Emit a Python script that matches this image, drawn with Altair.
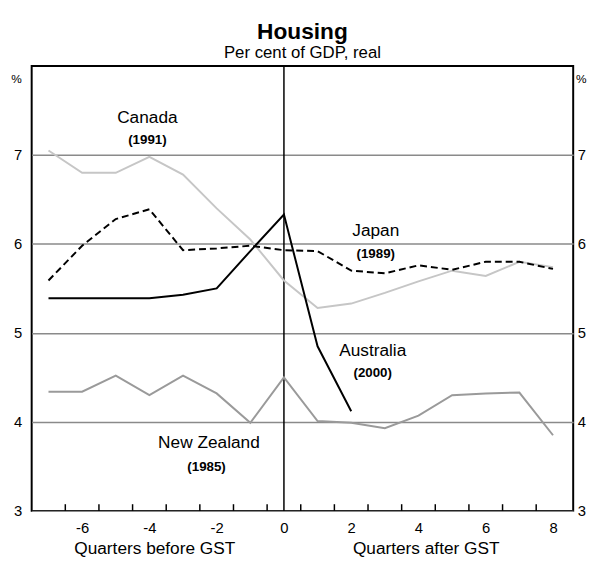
import altair as alt
import pandas as pd

FONT = "Liberation Sans, Arial, sans-serif"

quarters = list(range(-7, 9))
canada = [7.05, 6.80, 6.80, 6.98, 6.78, 6.40, 6.05, 5.59, 5.28, 5.33, 5.45, 5.58, 5.70, 5.64, 5.80, 5.74]
japan = [5.59, 5.98, 6.28, 6.39, 5.93, 5.95, 5.98, 5.93, 5.92, 5.70, 5.67, 5.76, 5.71, 5.80, 5.80, 5.72]
australia_q = list(range(-7, 3))
australia = [5.39, 5.39, 5.39, 5.39, 5.43, 5.50, 5.92, 6.33, 4.85, 4.12]
new_zealand = [4.34, 4.34, 4.52, 4.30, 4.52, 4.32, 3.99, 4.50, 4.01, 3.99, 3.93, 4.07, 4.30, 4.32, 4.33, 3.85]

x_tick_pos = [q + 0.5 for q in range(-7, 8)]
x_label_vals = [-6, -4, -2, 0, 2, 4, 6, 8]
y_label_vals = [3, 4, 5, 6, 7]

name_labels = ["Canada", "Japan", "Australia", "New Zealand"]
name_x = [-4.06, 2.73, 2.64, -2.23]
name_y = [7.42, 6.15, 4.80, 3.765]
year_labels = ["(1991)", "(1989)", "(2000)", "(1985)"]
year_x = [-4.06, 2.73, 2.64, -2.30]
year_y = [7.17, 5.89, 4.55, 3.49]

bottom_titles = ["Quarters before  GST", "Quarters after GST"]
bottom_x = [-3.84, 4.23]

XDOM = [-7.5, 8.6]
YDOM = [3, 8]

xs = alt.Scale(domain=XDOM, nice=False, zero=False)
ys = alt.Scale(domain=YDOM, nice=False, zero=False)

XAXIS = alt.Axis(
    values=x_label_vals, tickSize=0, labelPadding=10, domain=False, grid=False,
    labelExpr="'' + datum.value",
    labelFontSize=15, labelFont=FONT, labelColor="black", title=None)


def X(field):
    return alt.X(field, scale=xs, axis=XAXIS)


def line_layer(qs, vals, color, dash=None, width=2.0):
    df = pd.DataFrame({"q": qs, "v": vals})
    kw = dict(color=color, strokeWidth=width)
    if dash:
        kw["strokeDash"] = dash
    return alt.Chart(df).mark_line(**kw).encode(
        x=X("q:Q"),
        y=alt.Y("v:Q", scale=ys, axis=None),
    )


grid_df = pd.DataFrame({"v": y_label_vals})
left_axis = alt.Chart(grid_df).mark_point(opacity=0).encode(
    x=X("v:Q"),
    y=alt.Y("v:Q", scale=ys, axis=alt.Axis(
        values=y_label_vals, orient="left", tickSize=0, labelPadding=10, domain=False,
        grid=True, gridColor="#8a8a8a", gridWidth=1.5, labelFontSize=15, labelFont=FONT,
        labelColor="black", title=None)),
)
right_axis = alt.Chart(grid_df).mark_point(opacity=0).encode(
    x=X("v:Q"),
    y=alt.Y("v:Q", scale=ys, axis=alt.Axis(
        values=y_label_vals, orient="right", tickSize=0, labelPadding=4, domain=False,
        grid=False, labelFontSize=15, labelFont=FONT, labelColor="black", title=None)),
)

pct_df = pd.DataFrame({"q": [-7.95, 8.84], "v": [7.85, 7.85], "t": ["%", "%"]})
pct = alt.Chart(pct_df).mark_text(fontSize=12, font=FONT, color="black").encode(
    x=X("q:Q"), y=alt.Y("v:Q", scale=ys, axis=None), text="t:N")

zero_df = pd.DataFrame({"q": [0], "a": [YDOM[0]], "b": [YDOM[1]]})
zero_line = alt.Chart(zero_df).mark_rule(color="black", strokeWidth=1.5).encode(
    x=X("q:Q"),
    y=alt.Y("a:Q", scale=ys, axis=None), y2="b:Q")

tick_df = pd.DataFrame({"q": x_tick_pos, "a": [3.0] * len(x_tick_pos), "b": [3.075] * len(x_tick_pos)})
ticks = alt.Chart(tick_df).mark_rule(color="black", strokeWidth=1.5).encode(
    x=X("q:Q"),
    y=alt.Y("a:Q", scale=ys, axis=None), y2="b:Q")

names_df = pd.DataFrame({"q": name_x, "v": name_y, "t": name_labels})
names = alt.Chart(names_df).mark_text(fontSize=17.5, font=FONT, color="black").encode(
    x=X("q:Q"), y=alt.Y("v:Q", scale=ys, axis=None), text="t:N")
years_df = pd.DataFrame({"q": year_x, "v": year_y, "t": year_labels})
years = alt.Chart(years_df).mark_text(fontSize=13.5, font=FONT, color="black", fontWeight="bold").encode(
    x=X("q:Q"), y=alt.Y("v:Q", scale=ys, axis=None), text="t:N")

bt_df = pd.DataFrame({"q": bottom_x, "v": [2.568, 2.568], "t": bottom_titles})
btitles = alt.Chart(bt_df).mark_text(fontSize=17.5, font=FONT, color="black").encode(
    x=X("q:Q"), y=alt.Y("v:Q", scale=ys, axis=None), text="t:N")

layers = [
    left_axis,
    right_axis,
    zero_line,
    ticks,
    line_layer(quarters, canada, "#c6c6c6", width=2.0),
    line_layer(quarters, new_zealand, "#9a9a9a", width=2.0),
    line_layer(quarters, japan, "black", dash=[7, 4], width=2.0),
    line_layer(australia_q, australia, "black", width=2.0),
    names,
    years,
    pct,
    btitles,
]

chart = alt.layer(*layers).resolve_scale(y="independent").properties(
    width=549,
    height=451,
    autosize=alt.AutoSizeParams(type="none"),
    padding={"left": 24, "top": 55, "right": 14, "bottom": 48},
    background="white",
    title=alt.TitleParams(
        text="Housing",
        subtitle="Per cent of GDP, real",
        anchor="middle",
        font=FONT,
        fontSize=23,
        fontWeight="bold",
        subtitleFont=FONT,
        subtitleFontSize=17,
        subtitlePadding=2,
        offset=4,
        color="black",
        subtitleColor="black",
    ),
).configure_view(stroke="black", strokeWidth=2)

chart.save("out.html", embed_options={"renderer": "svg", "actions": False})
